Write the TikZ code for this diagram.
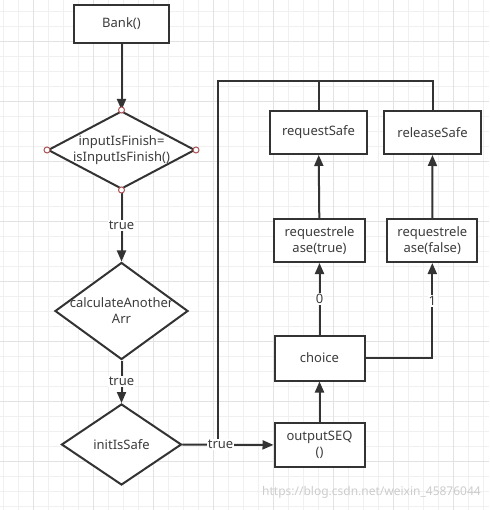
\documentclass[tikz,border=0pt]{standalone}
\usepackage{fontspec}
\setmainfont{Noto Sans}
\usepackage{tikz}
\usetikzlibrary{shapes.geometric,arrows.meta}
\definecolor{flowline}{RGB}{51,51,51}
\definecolor{flowtext}{RGB}{60,60,60}
\definecolor{gridminor}{RGB}{240,240,240}
\definecolor{gridmajor}{RGB}{226,226,226}
\definecolor{portred}{RGB}{170,80,80}
\tikzstyle{flowbox}=[rectangle, draw=flowline, line width=2pt, fill=white, text=flowtext, align=center, inner sep=0pt, font=\fontsize{13}{16}\selectfont]
\tikzstyle{flowtest}=[diamond, draw=flowline, line width=2pt, fill=white, inner sep=0pt]
\tikzstyle{flowtxt}=[text=flowtext, align=center, font=\fontsize{13}{16}\selectfont]
\tikzstyle{flowlbl}=[fill=white, text=flowtext, inner sep=1pt, font=\fontsize{13}{16}\selectfont]
\tikzstyle{flowarrow}=[draw=flowline, line width=2pt, -{Triangle[length=11pt,width=9pt]}]
\tikzstyle{flowwire}=[draw=flowline, line width=2pt]
\tikzstyle{portdot}=[circle, draw=portred, line width=1pt, fill=white, inner sep=0pt, minimum size=6pt]
\newcommand{\flowbox}[5]{
	\node[flowbox, minimum width=#3, minimum height=#4] (#1) at (#2) {#5};}
\newcommand{\flowtest}[5]{
	\node[flowtest, minimum width=#3, minimum height=#4] (#1) at (#2) {};
	\node[flowtxt] (#1-t) at (#2) {#5};}

\begin{document}
\begin{tikzpicture}[x=1pt, y=-1pt]
\useasboundingbox (0,0) rectangle (489,510);
% background grid
\foreach \k in {0,...,32}
	\draw[gridminor, line width=1pt] (3.3+15*\k,0) -- (3.3+15*\k,510);
\foreach \k in {0,...,33}
	\draw[gridminor, line width=1pt] (0,11.7+15*\k) -- (489,11.7+15*\k);
\foreach \k in {0,...,7}
	\draw[gridmajor, line width=1pt] (33.3+60*\k,0) -- (33.3+60*\k,510);
\foreach \k in {0,...,7}
	\draw[gridmajor, line width=1pt] (0,41.7+60*\k) -- (489,41.7+60*\k);
% left column
\flowbox{bank}{121.5,24}{95pt}{38pt}{Bank()}
\flowtest{finish}{121.5,150}{147pt}{78pt}{inputIsFinish=\\isInputIsFinish()}
\flowtest{calc}{121.5,311}{133pt}{97pt}{calculateAnother\\Arr}
\flowtest{safe}{121.5,444.5}{120pt}{81pt}{initIsSafe}
% right column
\flowbox{reqsafe}{318.5,132.5}{97pt}{43pt}{requestSafe}
\flowbox{relsafe}{432.5,132.5}{97pt}{43pt}{releaseSafe}
\flowbox{reqtrue}{319.5,240.5}{91pt}{43pt}{requestrele\\ase(true)}
\flowbox{reqfalse}{432.3,240.5}{90pt}{43pt}{requestrele\\ase(false)}
\flowbox{choice}{319.5,358}{90pt}{45pt}{choice}
\flowbox{output}{319.5,445}{90pt}{44pt}{outputSEQ\\()}
\coordinate (split) at (218,444.5);
\coordinate (top) at (218,81);
% connectors
\draw[flowarrow] (bank) -- (finish);
\draw[flowarrow] (finish) -- node[flowlbl] {true} (calc);
\draw[flowarrow] (calc) -- node[flowlbl] {true} (safe);
\draw[flowwire] (split) -- (top) -| (relsafe);
\draw[flowwire] (reqsafe) -- (reqsafe |- top);
\draw[flowarrow] (safe) -- node[flowlbl, pos=0.42] {true} (output);
\draw[flowarrow] (output) -- (choice);
\draw[flowarrow] (choice) -- node[flowlbl] {0} (reqtrue);
\draw[flowarrow] (choice) -| node[flowlbl, pos=0.8] {1} (reqfalse);
\draw[flowarrow] (reqtrue) -- (reqsafe);
\draw[flowarrow] (reqfalse) -- (relsafe);
\foreach \a in {north,south,east,west}
	\node[portdot] at (finish.\a) {};
% watermark
\node[text=black!20, anchor=east, inner sep=0pt, font=\fontsize{12}{14}\selectfont] (mark) at (481,492) {https://blog.csdn.net/weixin\_45876044};
\end{tikzpicture}
\end{document}
